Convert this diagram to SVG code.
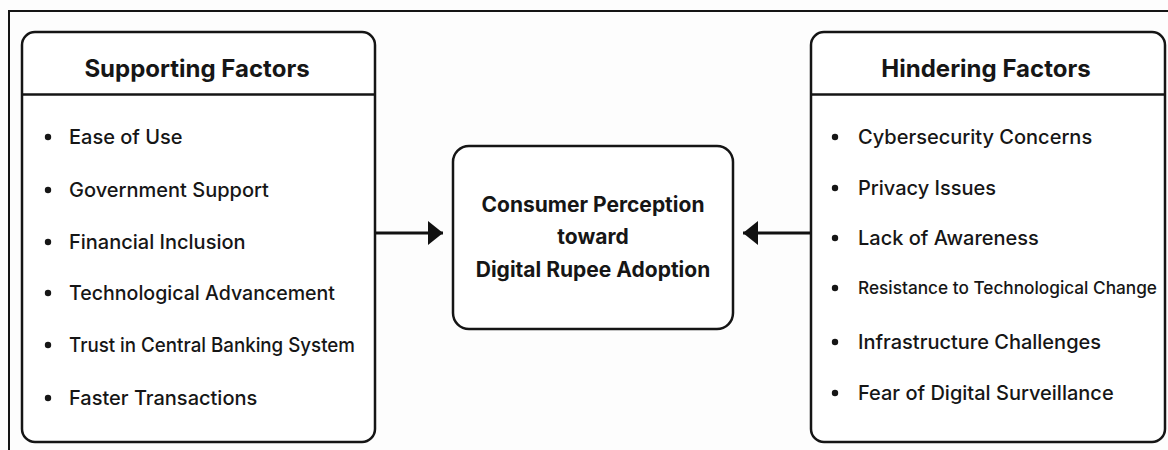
<svg xmlns="http://www.w3.org/2000/svg" width="1168" height="450" viewBox="0 0 1168 450">
<defs>
<style>
.box{fill:#fff;stroke:#151515;stroke-width:2.5}
.div{stroke:#151515;stroke-width:2.5}
.hdr{font-family:Inter,"Liberation Sans",sans-serif;font-weight:700;font-size:24px;fill:#161616;text-anchor:middle}
.item{font-family:Inter,"Liberation Sans",sans-serif;font-weight:500;font-size:20px;fill:#161616}
.ctr{font-family:Inter,"Liberation Sans",sans-serif;font-weight:700;font-size:21px;fill:#161616;text-anchor:middle}
.bul{fill:#161616}
.conn{stroke:#111;stroke-width:3;fill:none}
</style>
<marker id="ah" viewBox="0 0 15 24" refX="15" refY="12" markerWidth="15" markerHeight="24" markerUnits="userSpaceOnUse" orient="auto">
<path d="M0,0 L15,12 L0,24 Z" fill="#111"/>
</marker>
</defs>
<rect width="1168" height="450" fill="#fdfdfd"/>
<path d="M9,452 V11 H1170" fill="none" stroke="#151515" stroke-width="2"/>
<g id="supporting">
<rect class="box" x="22" y="32" width="353" height="410" rx="13"/>
<line class="div" x1="22" y1="94.5" x2="375" y2="94.5"/>
<text class="hdr" x="197" y="77">Supporting Factors</text>
<g class="bul"><circle cx="48" cy="137" r="3.2"/><circle cx="48" cy="190" r="3.2"/><circle cx="48" cy="242" r="3.2"/><circle cx="48" cy="293" r="3.2"/><circle cx="48" cy="345" r="3.2"/><circle cx="48" cy="398" r="3.2"/></g>
<text class="item" x="69" y="144">Ease of Use</text>
<text class="item" x="69" y="197">Government Support</text>
<text class="item" x="69" y="249">Financial Inclusion</text>
<text class="item" x="69" y="300" textLength="266" lengthAdjust="spacingAndGlyphs">Technological Advancement</text>
<text class="item" x="69" y="352" textLength="286" lengthAdjust="spacingAndGlyphs">Trust in Central Banking System</text>
<text class="item" x="69" y="405">Faster Transactions</text>
</g>
<g id="hindering">
<rect class="box" x="811" y="32" width="354" height="410" rx="13"/>
<line class="div" x1="811" y1="94.5" x2="1165" y2="94.5"/>
<text class="hdr" x="986" y="77">Hindering Factors</text>
<g class="bul"><circle cx="835" cy="137" r="3.2"/><circle cx="835" cy="188" r="3.2"/><circle cx="835" cy="238" r="3.2"/><circle cx="835" cy="288" r="3.2"/><circle cx="835" cy="342" r="3.2"/><circle cx="835" cy="393" r="3.2"/></g>
<text class="item" x="858" y="144">Cybersecurity Concerns</text>
<text class="item" x="858" y="195">Privacy Issues</text>
<text class="item" x="858" y="245">Lack of Awareness</text>
<text class="item" x="858" y="294" style="font-size:17.5px" textLength="299" lengthAdjust="spacingAndGlyphs">Resistance to Technological Change</text>
<text class="item" x="858" y="349">Infrastructure Challenges</text>
<text class="item" x="858" y="400">Fear of Digital Surveillance</text>
</g>
<g id="center">
<rect class="box" x="453" y="146" width="280" height="183" rx="16"/>
<text class="ctr" x="593" y="212">Consumer Perception</text>
<text class="ctr" x="593" y="244">toward</text>
<text class="ctr" x="593" y="277">Digital Rupee Adoption</text>
</g>
<g id="connectors">
<line class="conn" x1="376" y1="233" x2="443" y2="233" marker-end="url(#ah)"/>
<line class="conn" x1="810" y1="233" x2="743" y2="233" marker-end="url(#ah)"/>
</g>
</svg>
